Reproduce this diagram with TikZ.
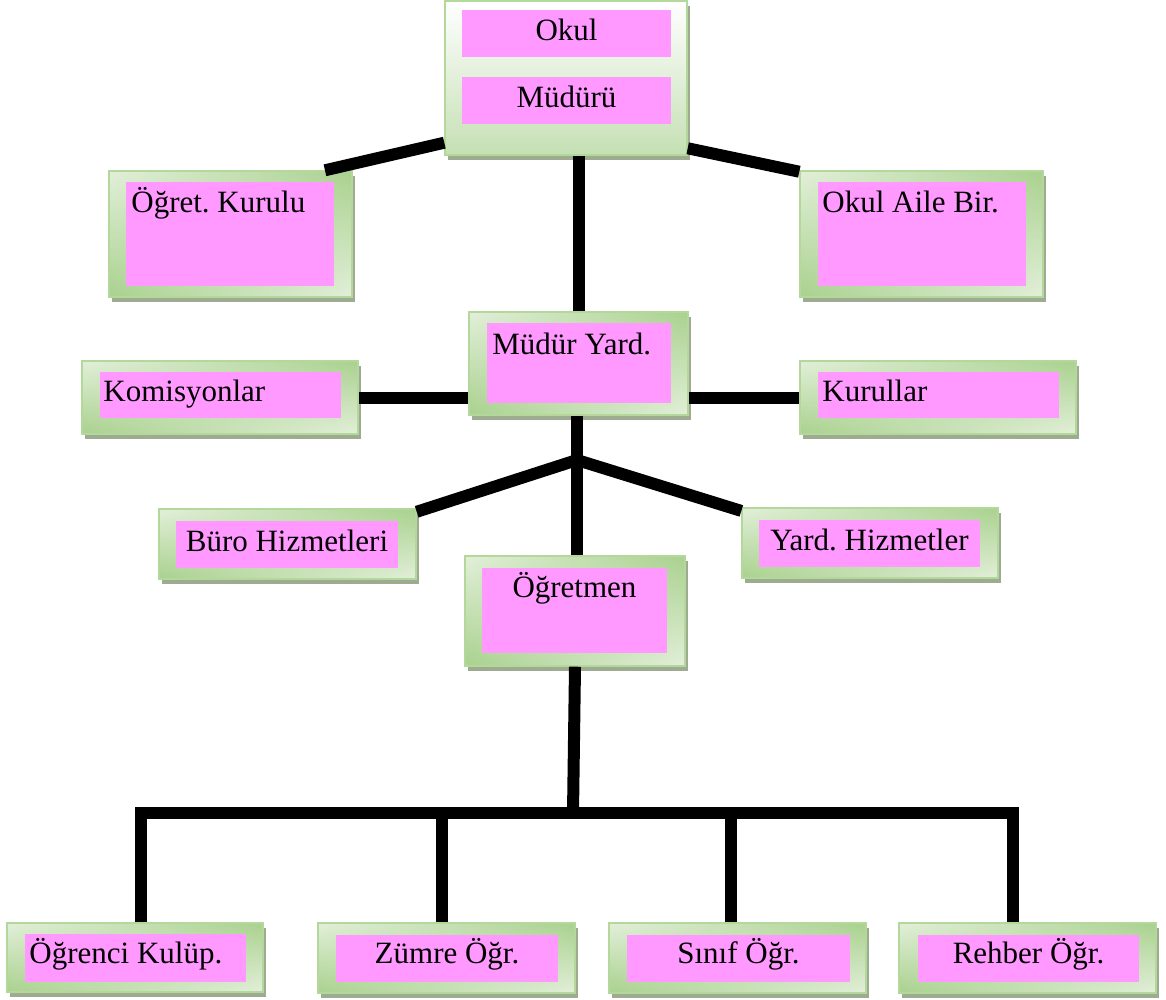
\documentclass[tikz,border=0pt]{standalone}
\usepackage{fontspec}
\setmainfont{Liberation Serif}
\usetikzlibrary{fit,shadows,shadings}
\definecolor{pembe}{HTML}{FF99FF}
\definecolor{yesilA}{HTML}{A9D18E}
\definecolor{yesilB}{HTML}{E2EFD9}
\definecolor{yesilC}{HTML}{C5E0B4}
\definecolor{cerceve}{HTML}{B4D89C}
\definecolor{golge}{HTML}{9DAB90}
\frenchspacing
\tikzset{
    kutu/.style={rectangle, draw=cerceve, line width=0.7pt, inner sep=0pt,
        lower left=yesilA, upper right=yesilA, upper left=yesilB, lower right=yesilB,
        drop shadow={shadow xshift=1.5pt, shadow yshift=-2.5pt, fill=golge, opacity=1}},
    ustkutu/.style={kutu, top color=white, bottom color=yesilC},
    pembekutu/.style={rectangle, fill=pembe, inner sep=0pt},
    yazi/.style={inner sep=0pt, anchor=base west},
    ortayazi/.style={inner sep=0pt, anchor=base},
    hat/.style={line width=6pt, line join=miter}
}
\begin{document}
\begin{tikzpicture}[x=0.5pt, y=-0.5pt, font=\fontsize{15.5pt}{18pt}\selectfont]
            \useasboundingbox (0,0) rectangle (1166,1000);
            \node[ustkutu, fit={(445,1) (687,155)}] (okul) {};
            \node[pembekutu, fit={(462,10) (671,57)}] (okul1) {};
            \node[ortayazi] (okul1T) at (okul1.center |- 0,41) {Okul};
            \node[pembekutu, fit={(462,77) (671,124)}] (okul2) {};
            \node[ortayazi] (okul2T) at (okul2.center |- 0,108) {Müdürü};

            \node[kutu, fit={(109,171) (352,297)}] (kurul) {};
            \node[pembekutu, fit={(126,182) (334,286)}] (kurulP) {};
            \node[yazi] (kurulT) at (131,213) {Öğret. Kurulu};

            \node[kutu, fit={(800,171) (1043,297)}] (aile) {};
            \node[pembekutu, fit={(818,182) (1026,286)}] (aileP) {};
            \node[yazi] (aileT) at (822,213) {Okul Aile Bir.};

            \node[kutu, fit={(469,312) (688,415)}] (yard) {};
            \node[pembekutu, fit={(487,323) (671,403)}] (yardP) {};
            \node[yazi] (yardT) at (492,354) {Müdür Yard.};

            \node[kutu, fit={(82,361) (358,434)}] (kom) {};
            \node[pembekutu, fit={(100,372) (341,418)}] (komP) {};
            \node[yazi] (komT) at (103,401) {Komisyonlar};

            \node[kutu, fit={(800,361) (1076,434)}] (kur) {};
            \node[pembekutu, fit={(818,372) (1059,418)}] (kurP) {};
            \node[yazi] (kurT) at (822,401) {Kurullar};

            \node[kutu, fit={(159,509) (416,579)}] (buro) {};
            \node[pembekutu, fit={(176,521) (398,568)}] (buroP) {};
            \node[ortayazi] (buroT) at (buroP.center |- 0,551) {Büro Hizmetleri};

            \node[kutu, fit={(742,508) (998,578)}] (hiz) {};
            \node[pembekutu, fit={(759,520) (980,567)}] (hizP) {};
            \node[ortayazi] (hizT) at (hizP.center |- 0,550) {Yard. Hizmetler};

            \node[kutu, fit={(465,556) (685,666)}] (ogrt) {};
            \node[pembekutu, fit={(482,568) (667,653)}] (ogrtP) {};
            \node[ortayazi] (ogrtT) at (ogrtP.center |- 0,597) {Öğretmen};

            \node[kutu, fit={(7,923) (263,992)}] (kulup) {};
            \node[pembekutu, fit={(25,934) (246,982)}] (kulupP) {};
            \node[yazi] (kulupT) at (29,963) {Öğrenci Kulüp.};
            \node[kutu, fit={(318,923) (575,993)}] (zumre) {};
            \node[pembekutu, fit={(336,935) (558,982)}] (zumreP) {};
            \node[ortayazi] (zumreT) at (zumreP.center |- 0,963) {Zümre Öğr.};
            \node[kutu, fit={(609,923) (866,993)}] (sinif) {};
            \node[pembekutu, fit={(627,935) (850,982)}] (sinifP) {};
            \node[ortayazi] (sinifT) at (sinifP.center |- 0,963) {Sınıf Öğr.};
            \node[kutu, fit={(899,923) (1156,993)}] (rehber) {};
            \node[pembekutu, fit={(918,935) (1139,982)}] (rehberP) {};
            \node[ortayazi] (rehberT) at (rehberP.center |- 0,963) {Rehber Öğr.};

            \coordinate (j1) at (577,460);
            \coordinate (j2) at (573,813);
            \coordinate (b1) at (141,813);
            \coordinate (b2) at (442,813);
            \coordinate (b3) at (731,813);
            \coordinate (b4) at (1013,813);

            \draw[hat] (okul.208) -- (kurul.34.5);
            \draw[hat] (okul.-30) -- (aile.153);
            \draw[hat] (yard.north |- okul.south) -- (yard.north);
            \draw[hat] (kom.east) -- (kom.east -| yard.west);
            \draw[hat] (yard.east |- kur.west) -- (kur.west);
            \draw[hat] (yard.south -| j1) -- (j1 |- ogrt.north);
            \draw[hat] (buro.14) -- (j1) -- (hiz.166);
            \draw[hat] (ogrt.south) -- (j2);
            \draw[hat] (b1 |- kulup.north) -- (b1) -- (b4) -- (b4 |- rehber.north);
            \draw[hat] (b2) -- (b2 |- zumre.north);
            \draw[hat] (b3) -- (b3 |- sinif.north);
\end{tikzpicture}
\end{document}
